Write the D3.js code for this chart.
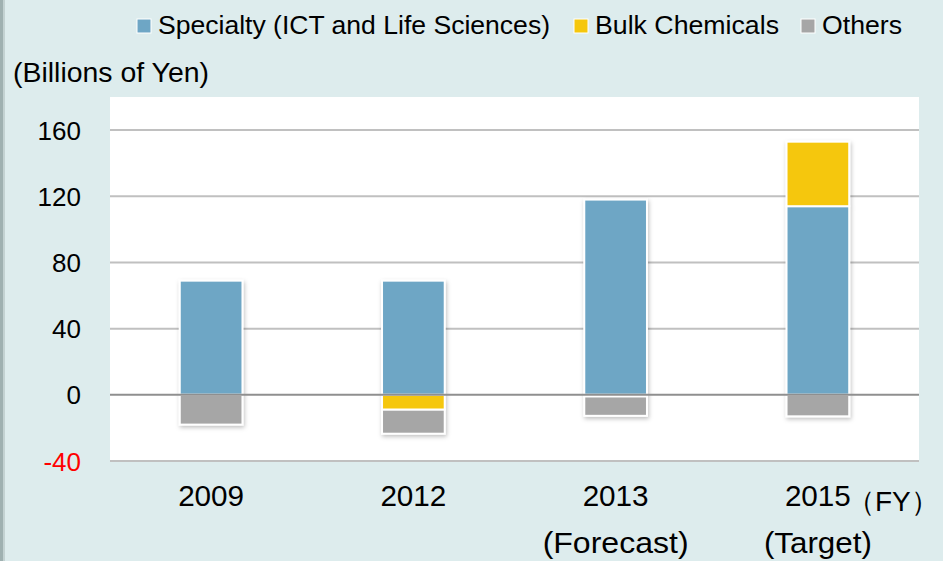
<!DOCTYPE html>
<html>
<head>
<meta charset="utf-8">
<script src="https://cdn.jsdelivr.net/npm/d3@7"></script>
<style>
  body { margin: 0; background: #ddeced; }
  text { font-family: "Liberation Sans", Arial, sans-serif; }
</style>
</head>
<body>
<div class="chart"></div>
<script>
// data
var years = ["2009", "2012", "2013", "2015"];
var notes = ["", "", "(Forecast)", "(Target)"];
var specialty = [69, 69, 118, 114];
var bulk = [0, -9, -1, 39];
var others = [-18, -14.5, -11.7, -13];
var seriesNames = ["Specialty (ICT and Life Sciences)", "Bulk Chemicals", "Others"];
var colors = ["#6ea6c5", "#f5c70d", "#a6a6a6"];
var yTicks = [-40, 0, 40, 80, 120, 160];

var width = 943, height = 561;
var plot = {left: 110, right: 919, top: 97, bottom: 461};

var svg = d3.select(".chart").append("svg")
    .attr("width", width)
    .attr("height", height);

var defs = svg.append("defs");
var shadow = defs.append("filter").attr("id", "shadow")
    .attr("x", "-20%").attr("y", "-20%").attr("width", "140%").attr("height", "140%");
shadow.append("feDropShadow")
    .attr("dx", 1).attr("dy", 2).attr("stdDeviation", 2)
    .attr("flood-color", "#000").attr("flood-opacity", 0.25);

// background + left edge
svg.append("rect").attr("width", width).attr("height", height).attr("fill", "#ddeced");
svg.append("rect").attr("x", 0).attr("y", 0).attr("width", 3).attr("height", height).attr("fill", "#9fb1b1");
svg.append("rect").attr("x", 3).attr("y", 0).attr("width", 2).attr("height", height).attr("fill", "#c3d2d2");

// plot area
svg.append("rect")
    .attr("x", plot.left).attr("y", plot.top)
    .attr("width", plot.right - plot.left).attr("height", plot.bottom - plot.top)
    .attr("fill", "#fff");

var x = d3.scaleBand().domain(years).range([plot.left, plot.right]).paddingInner(0.69).paddingOuter(0.345);
var y = d3.scaleLinear().domain([-40, 180]).range([plot.bottom, plot.top]);

// gridlines
svg.append("g").selectAll("line")
  .data(yTicks.filter(function(t){ return t !== 0; }))
  .enter().append("line")
    .attr("x1", plot.left).attr("x2", plot.right)
    .attr("y1", function(d){ return y(d); }).attr("y2", function(d){ return y(d); })
    .attr("stroke", "#c0c0c0").attr("stroke-width", 2);

// y labels
svg.append("g").selectAll("text")
  .data(yTicks)
  .enter().append("text")
    .attr("x", 81)
    .attr("y", function(d){ return y(d) + 9.5; })
    .attr("text-anchor", "end")
    .attr("font-size", 26)
    .attr("fill", function(d){ return d < 0 ? "#ff0000" : "#000"; })
    .text(function(d){ return d; });

// stack rows: positive and negative parts stacked from zero
var rows = years.map(function(yr, i) {
  var vals = [specialty[i], bulk[i], others[i]];
  var pos = 0, neg = 0;
  return vals.map(function(v, k) {
    var y0, y1;
    if (v >= 0) { y0 = pos; pos += v; y1 = pos; }
    else { y0 = neg; neg += v; y1 = neg; }
    return {year: yr, k: k, y0: y0, y1: y1, v: v};
  }).filter(function(d){ return d.v !== 0; });
});

var bars = svg.append("g");
rows.forEach(function(r) {
  bars.append("g").attr("filter", "url(#shadow)")
    .selectAll("rect")
    .data(r)
    .enter().append("rect")
      .attr("x", function(d){ return x(d.year); })
      .attr("width", x.bandwidth())
      .attr("y", function(d){ return y(Math.max(d.y0, d.y1)); })
      .attr("height", function(d){ return Math.abs(y(d.y0) - y(d.y1)); })
      .attr("fill", function(d){ return colors[d.k]; })
      .attr("stroke", "#fff")
      .attr("stroke-width", 2);
});

// zero line
svg.append("line")
    .attr("x1", plot.left).attr("x2", plot.right)
    .attr("y1", y(0)).attr("y2", y(0))
    .attr("stroke", "#8f8f8f").attr("stroke-width", 2);

// x labels
var noteLen = {"(Forecast)": 146, "(Target)": 108};
var xl = svg.append("g");
years.forEach(function(yr, i) {
  xl.append("text")
    .attr("x", x(yr) + x.bandwidth() / 2).attr("y", 506)
    .attr("text-anchor", "middle").attr("font-size", 29)
    .attr("textLength", 66).attr("lengthAdjust", "spacingAndGlyphs")
    .text(yr);
  if (notes[i]) {
    xl.append("text")
      .attr("x", x(yr) + x.bandwidth() / 2).attr("y", 553)
      .attr("text-anchor", "middle").attr("font-size", 29)
      .attr("textLength", noteLen[notes[i]]).attr("lengthAdjust", "spacingAndGlyphs")
      .text(notes[i]);
  }
});
svg.append("text").attr("x", 847).attr("y", 511).attr("font-size", 28).text("（FY）");

// unit label
svg.append("text").attr("x", 13).attr("y", 82).attr("font-size", 27)
    .attr("textLength", 196).attr("lengthAdjust", "spacingAndGlyphs")
    .text("(Billions of Yen)");

// legend
var lg = svg.append("g");
var lx = [137, 574, 801];
var lLen = [392, 184, 80];
seriesNames.forEach(function(n, i) {
  lg.append("rect").attr("x", lx[i]).attr("y", 19).attr("width", 14).attr("height", 14)
    .attr("fill", colors[i]).attr("stroke", "#fff").attr("stroke-width", 1);
  lg.append("text").attr("x", lx[i] + 21).attr("y", 34).attr("font-size", 26)
    .attr("textLength", lLen[i]).attr("lengthAdjust", "spacingAndGlyphs")
    .text(n);
});
</script>
</body>
</html>
